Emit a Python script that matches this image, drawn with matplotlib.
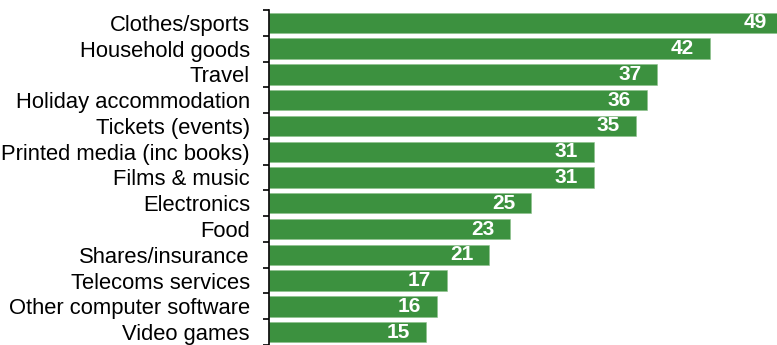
import matplotlib
matplotlib.use("Agg")
import matplotlib.pyplot as plt
import numpy as np

categories = ["Clothes/sports", "Household goods", "Travel", "Holiday accommodation",
              "Tickets (events)", "Printed media (inc books)", "Films & music", "Electronics",
              "Food", "Shares/insurance", "Telecoms services", "Other computer software",
              "Video games"]
values = [49, 42, 37, 36, 35, 31, 31, 25, 23, 21, 17, 16, 15]

plt.rcParams['font.family'] = ['Liberation Sans', 'DejaVu Sans']

W, H = 777, 345
fig = plt.figure(figsize=(W/100, H/100), dpi=100)
left = 268.7 / W
ax = fig.add_axes([left, 0, 1 - left, 1 - 10/H])

y = np.arange(len(categories))
color = '#3c913f'
ax.barh(y, values, height=0.79, color=color, edgecolor='#8cc08c', linewidth=0.4)
ax.set_ylim(len(categories) - 0.5, -0.5)
ax.set_xlim(0, (W - 268.7) / 10.5)

for yi, v in zip(y, values):
    ax.annotate(str(v), xy=(v, yi), xytext=(-16, 0), textcoords='offset pixels',
                ha='right', va='center', color='white', fontsize=15, fontweight='bold',
                annotation_clip=False)

for s in ['top', 'right', 'bottom']:
    ax.spines[s].set_visible(False)
ax.spines['left'].set_linewidth(1.2)
ax.spines['left'].set_color('black')
ax.set_xticks([])
ax.set_yticks(y)
ax.set_yticklabels(categories, fontsize=15.8)
ax.tick_params(axis='y', which='major', length=0, pad=13.5)
ax.set_yticks(np.arange(len(categories) + 1) - 0.5, minor=True)
ax.tick_params(axis='y', which='minor', length=4, width=1.2, color='black')

fig.savefig("out.png", dpi=100)
